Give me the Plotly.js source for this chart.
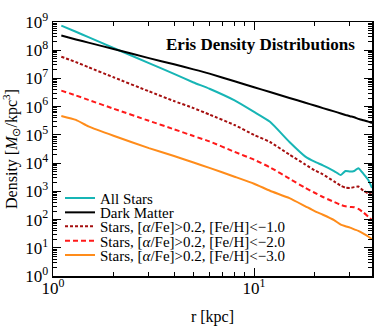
<!DOCTYPE html>
<html>
<head>
<meta charset="utf-8">
<script src="https://cdn.plot.ly/plotly-3.0.1.min.js"></script>
<style>
  html, body { margin: 0; padding: 0; background: #fff; }
  #chart { width: 374px; height: 326px; }
</style>
</head>
<body>
<div id="chart"></div>
<script>
// radius in kpc (shared by every profile)
var radius = [1.1, 1.3, 1.5, 2, 3, 4, 5, 6, 8, 10, 12, 15, 18, 20, 22, 25, 27, 28.5, 30, 31.5, 33, 35, 37, 38.6];

// densities in Msun/kpc^3
var allStars = [7.4e8, 4.5e8, 2.9e8, 1.2e8, 3.5e7, 1.45e7, 7.2e6, 4.3e6, 1.66e6, 6.5e5, 2.9e5, 5.6e4,
  1.7e4, 1.12e4, 8.3e3, 5.25e3, 3.8e3, 5.25e3, 5.0e3, 5.25e3, 6.6e3, 4.17e3, 2.5e3, 1.32e3];
var darkMatter = [3.3e8, 2.4e8, 1.86e8, 1.1e8, 5.25e7, 3.16e7, 2.1e7, 1.48e7, 7.9e6, 4.9e6, 3.3e6, 2.04e6,
  1.38e6, 1.1e6, 8.9e5, 6.8e5, 5.75e5, 5.1e5, 4.6e5, 4.2e5, 3.7e5, 3.3e5, 2.95e5, 2.63e5];
var feh1 = [5.9e7, 3.8e7, 2.5e7, 1.1e7, 3.5e6, 1.58e6, 8.9e5, 5.25e5, 2.24e5, 1.0e5, 5.6e4, 2.0e4,
  8.9e3, 5.6e3, 4.0e3, 2.24e3, 1.58e3, 1.35e3, 1.32e3, 1.41e3, 1.48e3, 1.05e3, 850, 760];
var feh2 = [3.7e6, 2.5e6, 1.74e6, 8.5e5, 3.16e5, 1.58e5, 9.1e4, 5.9e4, 2.5e4, 1.32e4, 7.1e3, 2.8e3,
  1.32e3, 890, 630, 420, 330, 295, 280, 275, 240, 178, 126, 95];
var feh3 = [4.7e5, 3.4e5, 2.0e5, 9.3e4, 3.4e4, 1.78e4, 1.05e4, 6.8e3, 3.3e3, 1.86e3, 1.05e3, 575,
  295, 200, 148, 95, 66, 58, 52, 45, 40, 32, 25, 20];

var seriesNames = ['All Stars', 'Dark Matter',
  'Stars, [<i>α</i>/Fe]>0.2, [Fe/H]<−1.0',
  'Stars, [<i>α</i>/Fe]>0.2, [Fe/H]<−2.0',
  'Stars, [<i>α</i>/Fe]>0.2, [Fe/H]<−3.0'];

// tick labels
var xTickVals = [1, 10];
var xTickText = ['10<sup>0</sup>', '10<sup>1</sup>'];
var yTickVals = [1, 10, 100, 1e3, 1e4, 1e5, 1e6, 1e7, 1e8, 1e9];
var yTickText = ['10<sup>0</sup>', '10<sup>1</sup>', '10<sup>2</sup>', '10<sup>3</sup>', '10<sup>4</sup>',
  '10<sup>5</sup>', '10<sup>6</sup>', '10<sup>7</sup>', '10<sup>8</sup>', '10<sup>9</sup>'];

var xMinor = [2, 3, 4, 5, 6, 7, 8, 9, 20, 30];
var yMinor = [];
for (var k = 0; k < 9; k++) {
  for (var m = 2; m <= 9; m++) yMinor.push(m * Math.pow(10, k));
}

var serif = 'Liberation Serif, Times New Roman, serif';
var styles = [
  {color: '#17b5b5', dash: 'solid'},
  {color: '#000000', dash: 'solid'},
  {color: '#a50f0f', dash: '3px,2px'},
  {color: '#ff1a1a', dash: '5px,3px'},
  {color: '#ff8c1a', dash: 'solid'}
];
var values = [allStars, darkMatter, feh1, feh2, feh3];
var legendNames = ['legend', 'legend2', 'legend3', 'legend4', 'legend5'];
// legend row centres in pixels, converted to paper coords below
var rowPx = [198.3, 212.6, 226.6, 240.9, 255.3];

var data = [];
for (var i = 0; i < values.length; i++) {
  data.push({
    x: radius,
    y: values[i],
    type: 'scatter',
    mode: 'lines',
    name: seriesNames[i],
    legend: legendNames[i],
    line: {color: styles[i].color, width: 2, dash: styles[i].dash, shape: 'spline', smoothing: 0.5}
  });
}

var plotTop = 22, plotBottom = 276, plotLeft = 53, plotRight = 372;

var axisCommon = {
  type: 'log',
  showline: true,
  linecolor: '#000',
  linewidth: 1.5,
  mirror: 'allticks',
  ticks: 'inside',
  ticklen: 8,
  tickwidth: 1,
  tickcolor: '#000',
  showgrid: false,
  zeroline: false,
  tickmode: 'array',
  tickfont: {family: serif, size: 17, color: '#000'}
};

var layout = {
  width: 374,
  height: 326,
  showlegend: true,
  margin: {l: plotLeft, r: 374 - plotRight, t: plotTop, b: 326 - plotBottom},
  paper_bgcolor: '#fff',
  plot_bgcolor: '#fff',
  font: {family: serif, color: '#000'},
  xaxis: Object.assign({}, axisCommon, {
    range: [0, Math.log10(38.6)],
    tickvals: xTickVals,
    ticktext: xTickText,
    ticklabelstandoff: -4,
    minor: {ticks: 'inside', ticklen: 4, tickwidth: 1, tickcolor: '#000', tickmode: 'array', tickvals: xMinor, showgrid: false},
    title: {text: 'r [kpc]', font: {family: serif, size: 16, color: '#000'}, standoff: 14}
  }),
  yaxis: Object.assign({}, axisCommon, {
    range: [0, 9],
    tickvals: yTickVals,
    ticktext: yTickText,
    minor: {ticks: 'inside', ticklen: 4, tickwidth: 1, tickcolor: '#000', tickmode: 'array', tickvals: yMinor, showgrid: false},
    title: {text: 'Density [<i>M</i><sub>⊙</sub>/kpc<sup>3</sup>]', font: {family: serif, size: 16, color: '#000'}, standoff: 4}
  }),
  annotations: [{
    text: '<b>Eris Density Distributions</b>',
    xref: 'paper', yref: 'paper',
    x: (260.5 - plotLeft) / (plotRight - plotLeft),
    y: (plotBottom - 45) / (plotBottom - plotTop),
    xanchor: 'center', yanchor: 'middle',
    showarrow: false,
    font: {family: serif, size: 17, color: '#000'}
  }]
};

for (var j = 0; j < legendNames.length; j++) {
  layout[legendNames[j]] = {
    x: (60 - plotLeft) / (plotRight - plotLeft),
    y: (plotBottom - rowPx[j]) / (plotBottom - plotTop),
    xanchor: 'left',
    yanchor: 'middle',
    bgcolor: 'rgba(0,0,0,0)',
    borderwidth: 0,
    font: {family: serif, size: 15, color: '#000'}
  };
}

Plotly.newPlot('chart', data, layout, {displayModeBar: false, staticPlot: true});
</script>
</body>
</html>
